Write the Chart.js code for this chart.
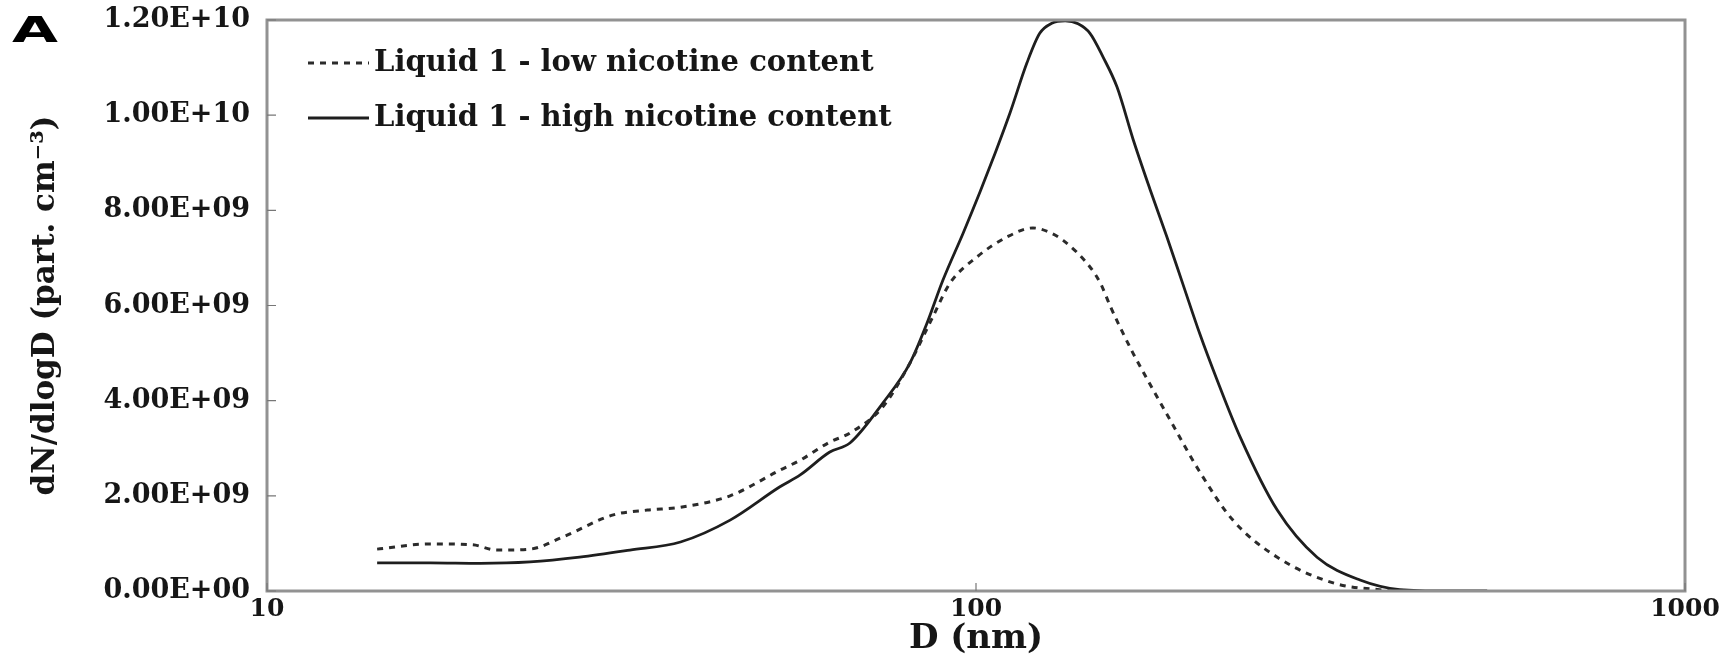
<!DOCTYPE html>
<html>
<head>
<meta charset="utf-8">
<script src="https://cdn.jsdelivr.net/npm/chart.js@4.4.1/dist/chart.umd.min.js"></script>
<style>
  html,body{margin:0;padding:0;background:#fff;}
  #wrap{width:1736px;height:666px;position:relative;}
</style>
</head>
<body>
<div id="wrap"><canvas id="chartPsd"></canvas></div>
<script>
// ─── Data (D in nm, dN/dlogD in part. cm-3) ───
const DIAM_LOW  = [14.3,17,19.5,21.1,23.5,26.1,30.8,34.4,38.3,45,52.9,56.5,62.2,66.4,73.9,80.7,86.9,91.9,100.3,110.6,120.3,126.4,132.7,144.8,150,154.5,159.6,166.5,175.9,185.8,206.9,230.3,266,319,375,396];
const DNDLOGD_LOW = [0.88e9,0.99e9,0.97e9,0.86e9,0.88e9,1.13e9,1.6e9,1.7e9,1.76e9,2.0e9,2.54e9,2.75e9,3.13e9,3.32e9,3.87e9,4.79e9,5.76e9,6.47e9,7.02e9,7.44e9,7.63e9,7.55e9,7.37e9,6.81e9,6.45e9,6.0e9,5.55e9,5.0e9,4.35e9,3.72e9,2.5e9,1.49e9,0.71e9,0.17e9,0.02e9,0];

const DIAM_HIGH = [14.3,17,20,23.5,27.6,32.5,38.3,45,52.9,56.5,62.2,66.4,73.9,80.7,85.3,89.8,95.9,101.4,106.4,111.7,118,123,127.9,133.6,139.3,144.8,151.1,158.1,166.5,175.9,185.8,195.8,206.9,218.6,235.6,266,302.7,348,396,460,526];
const DNDLOGD_HIGH = [0.59e9,0.59e9,0.58e9,0.61e9,0.71e9,0.86e9,1.03e9,1.49e9,2.19e9,2.44e9,2.92e9,3.11e9,3.95e9,4.79e9,5.63e9,6.53e9,7.52e9,8.4e9,9.2e9,10.05e9,11.1e9,11.72e9,11.93e9,11.98e9,11.92e9,11.72e9,11.22e9,10.59e9,9.5e9,8.45e9,7.45e9,6.45e9,5.4e9,4.45e9,3.25e9,1.7e9,0.71e9,0.23e9,0.03e9,0,0];

const LABELS = ['Liquid 1 - low nicotine content','Liquid 1 - high nicotine content'];
const X_TICKS = [10,100,1000];
const Y_MIN = 0, Y_MAX = 1.2e10, Y_STEP = 2e9;

const FONT = "'DejaVu Serif', serif";
const INK  = '#161616';
const FRAME = '#929292';

function sciLabel(v){
    if(v===0) return '0.00E+00';
    const e=Math.floor(Math.log10(v)+1e-9);
    const m=v/Math.pow(10,e);
    return m.toFixed(2)+'E+'+String(e).padStart(2,'0');
}
function pts(xs,ys){return xs.map((x,i)=>({x,y:ys[i]}));}

// ─── Frame, inward ticks, legend and panel letter ───
const decor = {
    id:'decor',
    afterDraw(chart){
        const {ctx,chartArea:a,scales:{x,y}} = chart;
        ctx.save();
        // frame
        ctx.strokeStyle=FRAME; ctx.lineWidth=3;
        ctx.strokeRect(a.left,a.top,a.right-a.left,a.bottom-a.top);
        // inward ticks
        ctx.lineWidth=1.2; ctx.strokeStyle='#777';
        ctx.beginPath();
        y.ticks.forEach(t=>{const py=y.getPixelForValue(t.value);ctx.moveTo(a.left,py);ctx.lineTo(a.left+9,py);});
        x.ticks.forEach(t=>{const px=x.getPixelForValue(t.value);ctx.moveTo(px,a.bottom);ctx.lineTo(px,a.bottom-8);});
        ctx.stroke();
        // legend
        const lx=a.left+41, rows=[a.top+43,a.top+98];
        chart.data.datasets.forEach((ds,i)=>{
            const ry=rows[i];
            ctx.strokeStyle=ds.borderColor; ctx.lineWidth=ds.borderWidth;
            ctx.setLineDash(ds.borderDash||[]);
            ctx.beginPath(); ctx.moveTo(lx,ry); ctx.lineTo(lx+61,ry); ctx.stroke();
            ctx.setLineDash([]);
            ctx.fillStyle=INK; ctx.font='bold 29px '+FONT; ctx.textBaseline='middle'; ctx.textAlign='left';
            ctx.fillText(ds.label,lx+66,ry);
        });
        // panel letter
        ctx.translate(12,33); ctx.scale(1.65,1);
        ctx.font="bold 36px 'DejaVu Sans', sans-serif"; ctx.fillStyle='#000'; ctx.textBaseline='middle';
        ctx.fillText('A',0,0);
        ctx.restore();
    }
};

Chart.defaults.font.family=FONT;
Chart.defaults.color=INK;

const ctx=document.getElementById('chartPsd').getContext('2d');
new Chart(ctx,{
    type:'scatter',
    data:{datasets:[
        {label:LABELS[0],data:pts(DIAM_LOW,DNDLOGD_LOW),showLine:true,borderColor:'#2b2b2b',borderWidth:3,borderDash:[6,6],
            pointRadius:0,cubicInterpolationMode:'monotone',fill:false},
        {label:LABELS[1],data:pts(DIAM_HIGH,DNDLOGD_HIGH),showLine:true,borderColor:'#1e1e1e',borderWidth:2.8,
            pointRadius:0,cubicInterpolationMode:'monotone',fill:false}
    ]},
    options:{
        responsive:true,maintainAspectRatio:false,animation:false,
        layout:{padding:{top:0,right:51,left:27,bottom:4}},
        plugins:{legend:{display:false},tooltip:{enabled:false}},
        scales:{
            x:{type:'logarithmic',min:10,max:1000,
                afterBuildTicks:s=>{s.ticks=X_TICKS.map(v=>({value:v}));},
                afterFit:s=>{s.height=71;},
                grid:{display:false,drawTicks:false},border:{display:false},
                ticks:{autoSkip:false,maxRotation:0,padding:3,font:{size:25,weight:'bold'},color:INK,callback:v=>String(v)},
                title:{display:true,text:'D (nm)',font:{size:34,weight:'bold'},color:INK,padding:{top:0,bottom:2}}
            },
            y:{min:Y_MIN,max:Y_MAX,
                afterFit:s=>{s.width=240;s.paddingTop=20;},
                grid:{display:false,drawTicks:false},border:{display:false},
                ticks:{stepSize:Y_STEP,padding:17,font:{size:27,weight:'bold'},color:INK,callback:v=>sciLabel(v)},
                title:{display:true,text:'dN/dlogD (part. cm⁻³)',font:{size:31,weight:'bold'},color:INK,padding:{top:0,bottom:0}}
            }
        }
    },
    plugins:[decor]
});
</script>
</body>
</html>
